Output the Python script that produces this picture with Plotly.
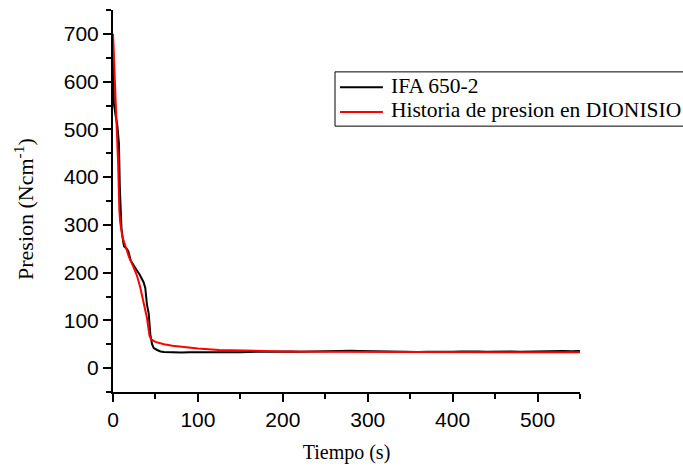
import plotly.graph_objects as go

# IFA 650-2 (black)
t_ifa = [0, 0.5, 1, 3, 5, 6, 7, 8, 9, 10, 12, 13, 16, 18, 21, 24, 28, 31, 34, 36, 38, 39, 40, 42, 43, 44, 46, 48, 52, 56,
         60, 70, 80, 90, 100, 110, 120, 130, 140, 150, 160, 170, 180, 190, 200, 210, 220, 230, 240, 250,
         260, 270, 280, 290, 300, 310, 320, 330, 340, 350, 360, 370, 380, 390, 400, 410, 420, 430, 440, 450,
         460, 470, 480, 490, 500, 510, 520, 530, 540, 550]
p_ifa = [690, 580, 555, 530, 510, 490, 470, 380, 305, 292, 265, 255, 250, 245, 225, 215, 205, 197, 188, 180, 168, 150, 133, 115, 95, 70, 50, 42, 38, 35,
         34, 33, 32.5, 33, 32.5, 33, 33.5, 33, 34, 33.5, 34, 34.5, 34, 35, 34.5, 35, 34.5, 35, 35.5, 35,
         36, 37, 36.5, 36, 35.5, 35, 34.5, 34, 34, 33.5, 34, 34.5, 34, 35, 34.5, 35, 35.5, 35, 34.5, 35,
         35.5, 35, 34.5, 35, 35.5, 35, 35.5, 36, 35.5, 36]

# Historia de presion en DIONISIO (red)
t_dio = [0, 2, 4, 6, 7.5, 8.5, 11, 15, 19, 24, 28, 32, 36, 40, 43, 45, 50, 60, 70, 80, 100, 125, 150, 200, 250, 300, 400, 550]
p_dio = [700, 615, 530, 430, 330, 305, 275, 252, 232, 212, 195, 170, 140, 105, 68, 60, 55, 50, 47, 45, 41, 38, 36.5, 35, 34.5, 34, 33.5, 33]

series_names = ["IFA 650-2", "Historia de presion en DIONISIO"]
series_colors = ["black", "#ff0000"]

fig = go.Figure()
fig.add_trace(go.Scatter(x=t_ifa, y=p_ifa, mode="lines", name=series_names[0],
                         line=dict(color=series_colors[0], width=2), showlegend=False))
fig.add_trace(go.Scatter(x=t_dio, y=p_dio, mode="lines", name=series_names[1],
                         line=dict(color=series_colors[1], width=2), showlegend=False))

axis_common = dict(showline=True, linecolor="black", linewidth=2, showgrid=False, zeroline=False,
                   ticks="outside", ticklen=8, tickwidth=2, tickcolor="black",
                   tickfont=dict(family="Liberation Sans", size=21, color="black"))

fig.update_xaxes(range=[0, 550], dtick=100, tick0=0,
                 minor=dict(dtick=50, ticks="outside", ticklen=5, tickwidth=2, tickcolor="black"),
                 title=dict(text="Tiempo (s)", font=dict(family="Liberation Serif", size=20, color="black")),
                 **axis_common)
fig.update_yaxes(range=[-50, 750], dtick=100, tick0=0,
                 minor=dict(dtick=50, ticks="outside", ticklen=5, tickwidth=2, tickcolor="black"),
                 **axis_common)

# y-axis title
fig.add_annotation(text="Presion (Ncm<sup>-1</sup>)", xref="paper", yref="paper",
                   x=-0.192, y=0.48, textangle=-90, showarrow=False,
                   xanchor="center", yanchor="middle",
                   font=dict(family="Liberation Serif", size=22, color="black"))

# legend box (drawn in paper coordinates)
leg_x0, leg_x1, leg_y0, leg_y1 = 0.4754, 1.25, 0.696, 0.838
fig.add_shape(type="rect", xref="paper", yref="paper", x0=leg_x0, x1=leg_x1, y0=leg_y0, y1=leg_y1,
              line=dict(color="black", width=1), fillcolor="white", layer="above")
row_y = [0.798, 0.733]
for name, color, yy in zip(series_names, series_colors, row_y):
    fig.add_shape(type="line", xref="paper", yref="paper", x0=0.486, x1=0.578, y0=yy, y1=yy,
                  line=dict(color=color, width=2), layer="above")
    fig.add_annotation(text=name, xref="paper", yref="paper", x=0.591, y=yy + 0.004,
                       xanchor="left", yanchor="middle", showarrow=False,
                       font=dict(family="Liberation Serif", size=21.5, color="black"))

fig.update_layout(
    width=683, height=470,
    margin=dict(l=113, r=103, t=10, b=75),
    plot_bgcolor="white", paper_bgcolor="white",
    showlegend=False,
)

fig.write_html("out.html")
